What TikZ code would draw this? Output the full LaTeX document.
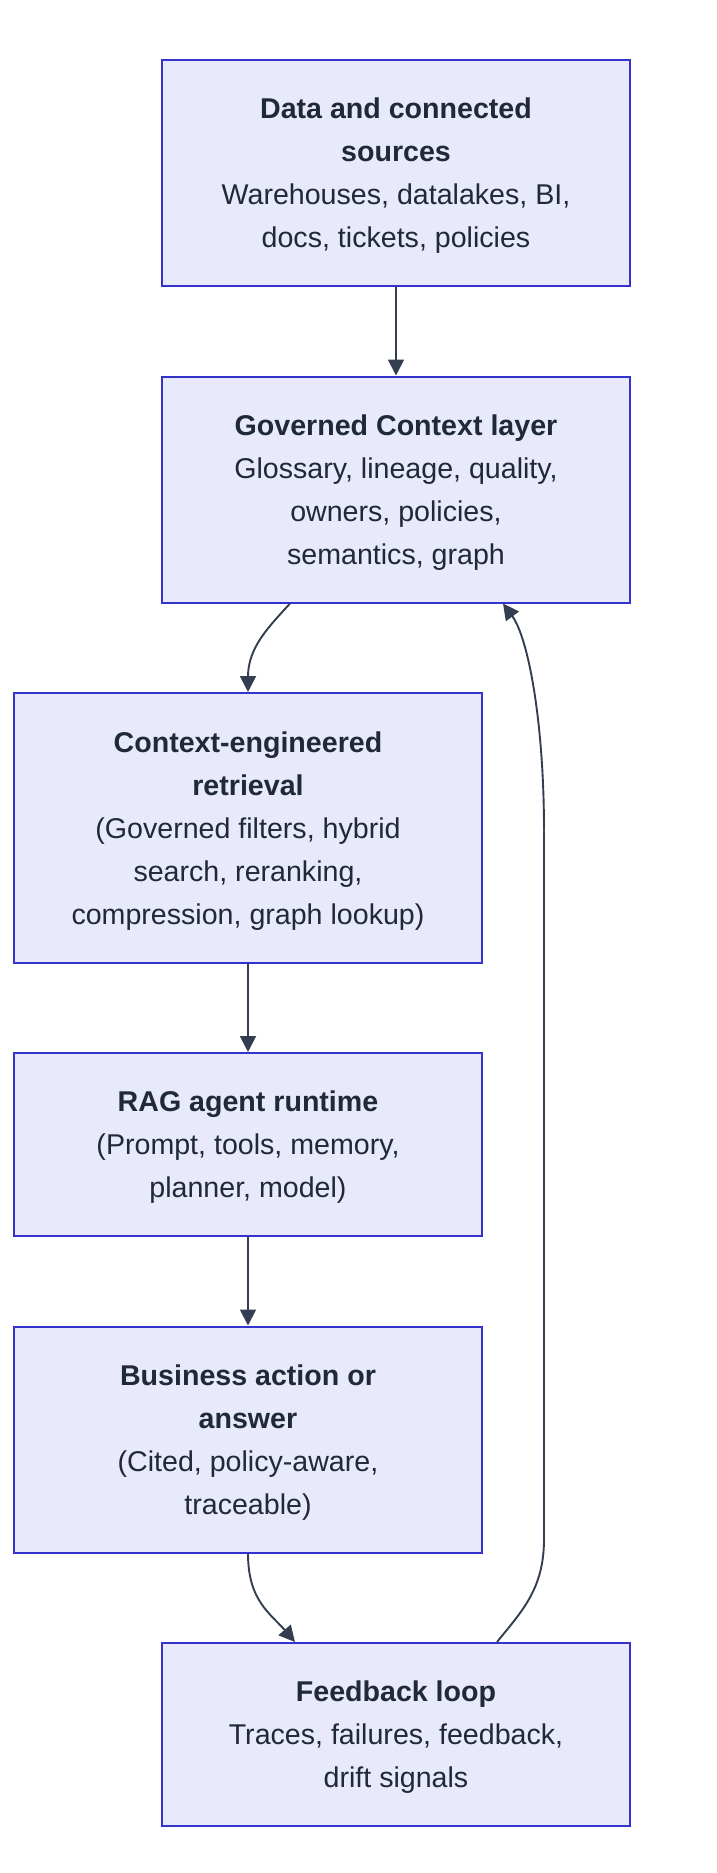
\documentclass[tikz,border=0pt]{standalone}
\usepackage{fontspec}
\setmainfont{Liberation Sans}
\usetikzlibrary{arrows.meta,calc}
\definecolor{boxfill}{RGB}{232,233,250}
\definecolor{boxdraw}{RGB}{52,52,205}
\definecolor{txt}{RGB}{31,41,55}
\definecolor{edge}{RGB}{51,62,80}
\newcommand{\fl}{\rule{0pt}{26pt}}
\tikzset{
  box/.style={draw=boxdraw, fill=boxfill, line width=2pt, minimum width=467.5pt,
    align=center, text=txt, inner sep=0pt,
    font=\fontsize{28.6}{43}\selectfont},
  conn/.style={draw=edge, line width=1.9pt, -{Triangle[length=16pt,width=16pt]}},
  connplain/.style={draw=edge, line width=1.9pt}
}
\begin{document}
\begin{tikzpicture}[x=1pt,y=-1pt]
\useasboundingbox (0,0) rectangle (717,1873);
\node[box, minimum height=226pt] (src) at (396,173)
  {\fl\textbf{Data and connected}\\\textbf{sources}\\Warehouses, datalakes, BI,\\docs, tickets, policies};
\node[box, minimum height=226pt] (gov) at (396,489.5)
  {\fl\textbf{Governed Context layer}\\Glossary, lineage, quality,\\owners, policies,\\semantics, graph};
\node[box, minimum height=270pt] (ret) at (248,828)
  {\fl\textbf{Context-engineered}\\\textbf{retrieval}\\(Governed filters, hybrid\\search, reranking,\\compression, graph lookup)};
\node[box, minimum height=183pt] (rag) at (248,1144.5)
  {\fl\textbf{RAG agent runtime}\\(Prompt, tools, memory,\\planner, model)};
\node[box, minimum height=226pt] (biz) at (248,1439.5)
  {\fl\textbf{Business action or}\\\textbf{answer}\\(Cited, policy-aware,\\traceable)};
\node[box, minimum height=183pt] (fb) at (396,1734.5)
  {\fl\textbf{Feedback loop}\\Traces, failures, feedback,\\drift signals};

\draw[conn] (src.south) -- (gov.north);
\draw[conn] ([xshift=-106pt]gov.south) .. controls +(-20,22) and +(0,-45) .. (ret.north);
\draw[conn] (ret.south) -- (rag.north);
\draw[conn] (rag.south) -- (biz.north);
\draw[conn] (biz.south) .. controls +(0,47) and +(-25,-29) .. ([xshift=-101pt]fb.north);
\coordinate (r1) at ($(fb.north)+(148,-103)$);
\coordinate (r2) at ($(gov.south)+(148,227)$);
\draw[connplain] ([xshift=101pt]fb.north) .. controls +(25,-31) and +(0,50) .. (r1) -- (r2);
\draw[conn] (r2) .. controls +(0,-110) and +(25,34) .. ([xshift=107pt]gov.south);
\end{tikzpicture}
\end{document}
